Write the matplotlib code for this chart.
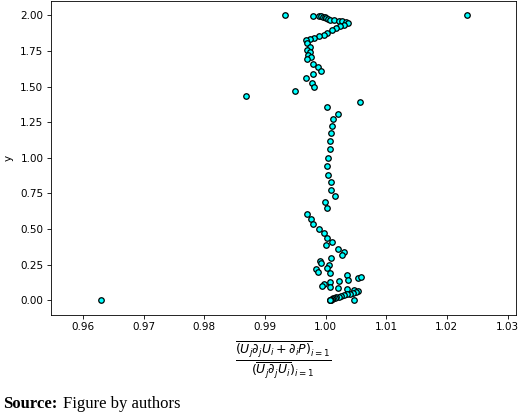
import matplotlib
matplotlib.use('Agg')
import matplotlib.pyplot as plt

# ratio values (x) against wall-normal position (y)
ratio = [0.9934, 1.0233, 0.9980, 0.9990, 0.9993, 0.9996, 0.9999, 1.0001, 1.0004, 1.0008,
         1.0014, 1.0022, 1.0028, 1.0033, 1.0037, 1.0030, 1.0024, 1.0017, 1.0010, 1.0003,
         0.9997, 0.9990, 0.9981, 0.9974, 0.9968, 0.9970, 0.9975, 0.9969, 0.9975, 0.9971,
         0.9976, 0.9970, 0.9980, 0.9988, 0.9992, 0.9980, 0.9968, 0.9977, 0.9981, 0.9950,
         0.9869, 1.0057, 1.0002, 1.0021, 1.0012, 1.0011, 1.0009, 1.0008, 1.0007, 1.0004,
         1.0003, 1.0004, 1.0009, 1.0009, 1.0015, 0.9999, 1.0003, 0.9969, 0.9976, 0.9980,
         0.9989, 0.9997, 1.0002, 1.0010, 1.0000, 1.0020, 1.0030, 1.0027, 1.0009, 0.9991,
         0.9992, 1.0006, 1.0002, 0.9984, 0.9988, 1.0007, 1.0035, 1.0054, 1.0059, 1.0037,
         1.0022, 1.0007, 0.9998, 0.9995, 1.0008, 1.0020, 1.0036, 1.0047, 1.0054,
         1.0050, 1.0045, 1.0040, 1.0035, 1.0030, 1.0026, 1.0022, 1.0018, 1.0015, 1.0013,
         1.0011, 1.0010, 1.0009, 1.0008, 1.0008, 1.0007, 1.0047, 0.9630]

y = [2.000, 2.000, 1.997, 1.997, 1.994, 1.990, 1.985, 1.980, 1.972, 1.968,
     1.965, 1.962, 1.960, 1.955, 1.949, 1.935, 1.928, 1.912, 1.895, 1.876,
     1.860, 1.853, 1.844, 1.837, 1.825, 1.802, 1.778, 1.755, 1.739, 1.720,
     1.708, 1.690, 1.661, 1.638, 1.610, 1.587, 1.563, 1.528, 1.498, 1.467,
     1.432, 1.395, 1.357, 1.311, 1.269, 1.222, 1.171, 1.117, 1.061, 1.000,
     0.940, 0.881, 0.830, 0.778, 0.729, 0.687, 0.645, 0.605, 0.568, 0.533,
     0.500, 0.470, 0.440, 0.411, 0.388, 0.360, 0.341, 0.318, 0.299, 0.278,
     0.260, 0.248, 0.225, 0.218, 0.201, 0.190, 0.178, 0.155, 0.162, 0.143,
     0.136, 0.127, 0.115, 0.103, 0.092, 0.085, 0.078, 0.073, 0.066,
     0.058, 0.052, 0.047, 0.042, 0.037, 0.032, 0.027, 0.022, 0.018, 0.014,
     0.011, 0.008, 0.006, 0.004, 0.002, 0.001, 0.002, 0.000]

xticks = [0.96, 0.97, 0.98, 0.99, 1.00, 1.01, 1.02, 1.03]
yticks = [0.00, 0.25, 0.50, 0.75, 1.00, 1.25, 1.50, 1.75, 2.00]

fig = plt.figure(figsize=(520 / 75, 412 / 75), dpi=75)
ax = fig.add_axes([50.7 / 520, 1 - 314.7 / 412, 465.3 / 520, 313.7 / 412])

ax.scatter(ratio, y, s=28, c='cyan', edgecolors='black', linewidths=1.2, zorder=3)

ax.set_xlim(0.9547, 1.0314)
ax.set_ylim(-0.1, 2.1)
ax.set_xticks(xticks)
ax.set_yticks(yticks)
ax.set_xticklabels(['%.2f' % v for v in xticks])
ax.set_yticklabels(['%.2f' % v for v in yticks])

ax.set_ylabel('y', labelpad=6)
ax.set_xlabel(r'$\dfrac{\overline{(U_j\partial_jU_i+\partial_iP)}_{i=1}}'
              r'{(\overline{U_j\partial_jU_i})_{i=1}}$', fontsize=12, labelpad=7)

fig.text(3 / 520, 1 - 408 / 412, 'Source:', family='Liberation Serif',
         weight='bold', fontsize=16, va='baseline')
fig.text(63 / 520, 1 - 408 / 412, 'Figure by authors', family='Liberation Serif',
         fontsize=16, va='baseline')

plt.savefig('out.png', dpi=75)
